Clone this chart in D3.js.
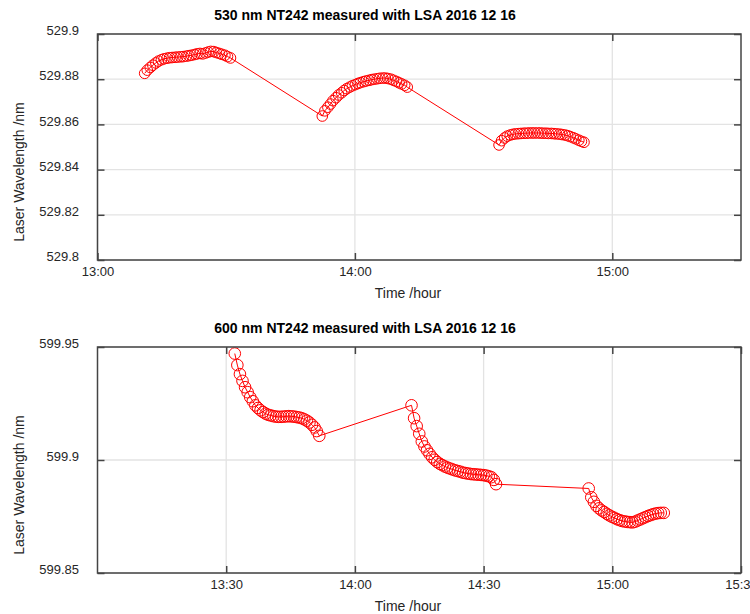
<!DOCTYPE html>
<html>
<head>
<meta charset="utf-8">
<script src="https://cdn.jsdelivr.net/npm/d3@7"></script>
<style>
  body { margin: 0; background: #fff; }
  svg { display: block; font-family: "Liberation Sans", Arial, sans-serif; }
  .tick text { fill: #262626; font-size: 13px; }
</style>
</head>
<body>
<div id="wrapper"></div>
<script>
// time is minutes after 13:00, wavelength in nm

// 530 nm laser
var t530 = [11.0, 11.6, 12.3, 12.9, 13.6, 14.2, 14.9, 15.5, 16.2, 16.8, 17.4, 18.1, 18.7, 19.4, 20.0, 20.7,
  21.3, 21.9, 22.6, 23.2, 23.9, 24.5, 25.2, 25.8, 26.4, 27.1, 27.7, 28.4, 29.0, 29.7, 30.3, 31.0,
  52.4, 53.0, 53.7, 54.3, 54.9, 55.6, 56.2, 56.9, 57.5, 58.1, 58.8, 59.4, 60.1, 60.7, 61.3, 62.0,
  62.6, 63.3, 63.9, 64.5, 65.2, 65.8, 66.5, 67.1, 67.7, 68.4, 69.0, 69.7, 70.3, 70.9, 71.6, 72.2,
  93.6, 94.2, 94.9, 95.5, 96.2, 96.8, 97.4, 98.1, 98.7, 99.4, 100.0, 100.6, 101.3, 101.9, 102.6, 103.2,
  103.8, 104.5, 105.1, 105.8, 106.4, 107.0, 107.7, 108.3, 109.0, 109.6, 110.2, 110.9, 111.5, 112.2, 112.8, 113.4]
var wl530 = [529.8826, 529.8840, 529.8852, 529.8862, 529.8872, 529.8880, 529.8886, 529.8890, 529.8893, 529.8895, 529.8896, 529.8897, 529.8898, 529.8899, 529.8900, 529.8902,
  529.8904, 529.8906, 529.8909, 529.8912, 529.8914, 529.8912, 529.8916, 529.8920, 529.8923, 529.8922, 529.8918, 529.8914, 529.8910, 529.8906, 529.8900, 529.8894,
  529.8637, 529.8660, 529.8676, 529.8690, 529.8705, 529.8718, 529.8730, 529.8740, 529.8750, 529.8758, 529.8765, 529.8771, 529.8776, 529.8781, 529.8785, 529.8789,
  529.8792, 529.8795, 529.8798, 529.8800, 529.8802, 529.8804, 529.8805, 529.8805, 529.8803, 529.8800, 529.8795, 529.8790, 529.8784, 529.8779, 529.8773, 529.8765,
  529.8509, 529.8528, 529.8540, 529.8548, 529.8553, 529.8556, 529.8558, 529.8559, 529.8560, 529.8561, 529.8561, 529.8562, 529.8562, 529.8562, 529.8562, 529.8562,
  529.8561, 529.8561, 529.8560, 529.8560, 529.8559, 529.8558, 529.8557, 529.8555, 529.8553, 529.8550, 529.8546, 529.8541, 529.8536, 529.8530, 529.8525, 529.8521]

// 600 nm laser
var t600 = [32.0, 32.6, 33.2, 33.8, 34.4, 35.0, 35.6, 36.2, 36.8, 37.4, 38.0, 38.6, 39.2, 39.8, 40.4, 41.0, 41.6,
  42.2, 42.8, 43.4, 44.0, 44.6, 45.2, 45.8, 46.4, 47.0, 47.6, 48.2, 48.8, 49.4, 50.0, 50.6, 51.1, 51.7,
  73.2, 73.8, 74.4, 75.0, 75.6, 76.2, 76.8, 77.4, 78.0, 78.6, 79.2, 79.8, 80.4, 81.0, 81.6, 82.2, 82.8,
  83.4, 84.0, 84.6, 85.2, 85.8, 86.4, 87.0, 87.6, 88.2, 88.8, 89.4, 90.0, 90.6, 91.2, 91.8, 92.4, 92.9,
  114.5, 115.1, 115.7, 116.3, 116.9, 117.5, 118.1, 118.7, 119.3, 119.9, 120.5, 121.1, 121.7, 122.3, 122.9,
  123.5, 124.1, 124.7, 125.3, 125.9, 126.5, 127.1, 127.7, 128.3, 128.9, 129.5, 130.1, 130.7, 131.3, 132.0]
var wl600 = [599.9471, 599.9420, 599.9380, 599.9350, 599.9322, 599.9300, 599.9278, 599.9260, 599.9242, 599.9230, 599.9220, 599.9212, 599.9205, 599.9200, 599.9197, 599.9194, 599.9192,
  599.9191, 599.9191, 599.9192, 599.9193, 599.9194, 599.9193, 599.9192, 599.9190, 599.9188, 599.9185, 599.9180, 599.9174, 599.9166, 599.9156, 599.9144, 599.9128, 599.9107,
  599.9242, 599.9185, 599.9150, 599.9116, 599.9082, 599.9060, 599.9043, 599.9027, 599.9012, 599.9001, 599.8991, 599.8983, 599.8977, 599.8971, 599.8966, 599.8962, 599.8958,
  599.8954, 599.8951, 599.8948, 599.8944, 599.8942, 599.8940, 599.8938, 599.8937, 599.8936, 599.8935, 599.8934, 599.8933, 599.8931, 599.8928, 599.8924, 599.8912, 599.8893,
  599.8874, 599.8835, 599.8815, 599.8797, 599.8786, 599.8777, 599.8770, 599.8762, 599.8755, 599.8749, 599.8744, 599.8738, 599.8734, 599.8730, 599.8728,
  599.8726, 599.8725, 599.8724, 599.8727, 599.8732, 599.8737, 599.8742, 599.8747, 599.8752, 599.8756, 599.8760, 599.8763, 599.8765, 599.8766, 599.8766]

// axis ticks
var xTicks530 = [0, 60, 120]
var xLabels530 = ["13:00", "14:00", "15:00"]
var yTicks530 = [529.8, 529.82, 529.84, 529.86, 529.88, 529.9]
var xTicks600 = [30, 60, 90, 120, 150]
var xLabels600 = ["13:30", "14:00", "14:30", "15:00", "15:30"]
var yTicks600 = [599.85, 599.9, 599.95]

var svg = d3.select("#wrapper").append("svg")
    .attr("width", 750)
    .attr("height", 614);

var makePlot = function(top, bottom, t, wl, xTicks, xLabels, yTicks, title, radius) {
    var left = 97.5, right = 741;

    var x = d3.scaleLinear().domain([0, 150]).range([left, right]);
    var y = d3.scaleLinear().domain([yTicks[0], yTicks[yTicks.length - 1]]).range([bottom, top]);

    var g = svg.append("g");

    // grid
    g.selectAll(".gx").data(xTicks).enter().append("line")
      .attr("x1", function(d) { return x(d) }).attr("x2", function(d) { return x(d) })
      .attr("y1", top).attr("y2", bottom)
      .attr("stroke", "#e3e3e3").attr("stroke-width", 1.3);
    g.selectAll(".gy").data(yTicks).enter().append("line")
      .attr("x1", left).attr("x2", right)
      .attr("y1", function(d) { return y(d) }).attr("y2", function(d) { return y(d) })
      .attr("stroke", "#e3e3e3").attr("stroke-width", 1.3);

    var pts = t.map(function(d, i) { return [d, wl[i]] });

    g.append("path")
      .datum(pts)
      .attr("fill", "none")
      .attr("stroke", "#f00")
      .attr("stroke-width", 1)
      .attr("d", d3.line().x(function(d) { return x(d[0]) }).y(function(d) { return y(d[1]) }));

    g.selectAll("circle").data(pts).enter().append("circle")
      .attr("cx", function(d) { return x(d[0]) })
      .attr("cy", function(d) { return y(d[1]) })
      .attr("r", radius)
      .attr("fill", "none")
      .attr("stroke", "#f00")
      .attr("stroke-width", 1);

    // axes, ticks point inward like matlab
    var xAxis = d3.axisBottom(x).tickValues(xTicks)
        .tickFormat(function(d, i) { return xLabels[i] })
        .tickSizeInner(-7).tickSizeOuter(0).tickPadding(7);
    var yAxis = d3.axisLeft(y).tickValues(yTicks)
        .tickFormat(d3.format("~g"))
        .tickSizeInner(-7).tickSizeOuter(0).tickPadding(25);

    var gx = g.append("g").attr("transform", "translate(0," + bottom + ")").call(xAxis);
    gx.selectAll("text").attr("y", 7).attr("dy", "0.71em");
    var gy = g.append("g").attr("transform", "translate(" + left + ",0)").call(yAxis);
    gy.selectAll("text").attr("dy", "0.05em").attr("x", -18.5);

    g.append("g").attr("transform", "translate(0," + top + ")")
      .call(d3.axisTop(x).tickValues(xTicks).tickFormat("").tickSizeInner(-7).tickSizeOuter(0));
    g.append("g").attr("transform", "translate(" + right + ",0)")
      .call(d3.axisRight(y).tickValues(yTicks).tickFormat("").tickSizeInner(-7).tickSizeOuter(0));

    g.selectAll(".domain").remove();
    g.selectAll(".tick line").attr("stroke", "#444").attr("stroke-width", 1.5);

    g.append("rect")
      .attr("x", left).attr("y", top)
      .attr("width", right - left).attr("height", bottom - top)
      .attr("fill", "none")
      .attr("stroke", "#444")
      .attr("stroke-width", 1.5);

    g.append("text")
      .attr("x", 365)
      .attr("y", top - 14)
      .attr("text-anchor", "middle")
      .style("font-size", "14px")
      .style("font-weight", "bold")
      .attr("fill", "#000")
      .text(title);

    g.append("text")
      .attr("x", 408)
      .attr("y", bottom + 38)
      .attr("text-anchor", "middle")
      .style("font-size", "14px")
      .attr("fill", "#262626")
      .text("Time /hour");

    g.append("text")
      .attr("transform", "translate(24," + ((top + bottom) / 2 + 25) + ") rotate(-90)")
      .attr("text-anchor", "middle")
      .style("font-size", "14px")
      .attr("fill", "#262626")
      .text("Laser Wavelength /nm");
}

makePlot(34, 260, t530, wl530, xTicks530, xLabels530, yTicks530, "530 nm NT242 measured with LSA 2016 12 16", 5.3)
makePlot(347, 573, t600, wl600, xTicks600, xLabels600, yTicks600, "600 nm NT242 measured with LSA 2016 12 16", 5.8)
</script>
</body>
</html>
